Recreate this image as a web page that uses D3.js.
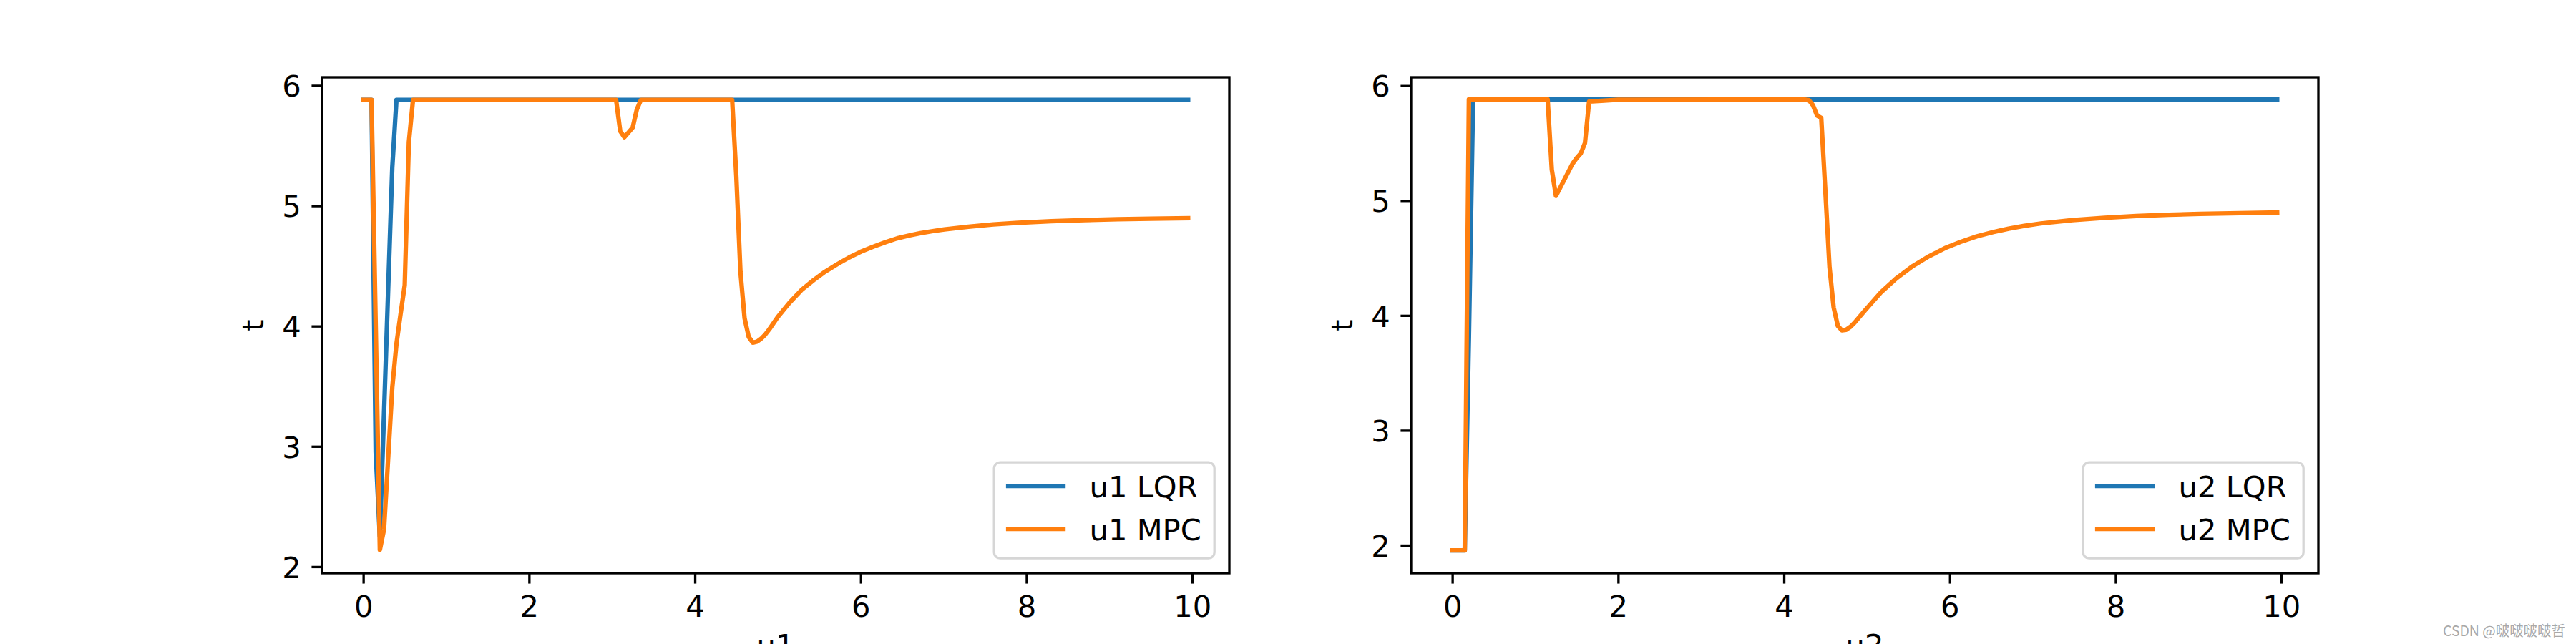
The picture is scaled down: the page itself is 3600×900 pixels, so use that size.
<!DOCTYPE html>
<html><head><meta charset="utf-8">
<script src="https://cdn.jsdelivr.net/npm/d3@7/dist/d3.min.js"></script>
<style>body{margin:0;background:#fff}</style>
</head><body>
<svg id="c" width="3600" height="900" xmlns="http://www.w3.org/2000/svg"></svg>
<script>
// ---------------- data ----------------
const xTicks = [0, 2, 4, 6, 8, 10];
const yTicks = [2, 3, 4, 5, 6];
const xLabels = ["u1", "u2"];
const yLabel = "t";
const legend1 = ["u1 LQR", "u1 MPC"];
const legend2 = ["u2 LQR", "u2 MPC"];

// u1, LQR
const u1LqrT = [0, 0.05, 0.1, 0.15, 0.2, 0.25, 0.3, 0.35, 0.4, 9.95];
const u1LqrV = [5.88, 5.88, 5.88, 2.95, 2.25, 3.27, 4.3, 5.32, 5.88, 5.88];
// u1, MPC
const u1MpcT = [0, 0.05, 0.1, 0.15, 0.2, 0.25, 0.3, 0.35, 0.4, 0.45, 0.5, 0.55, 0.6,
  3.05, 3.1, 3.15, 3.2, 3.25, 3.3, 3.35,
  4.45, 4.5, 4.55, 4.6, 4.65, 4.7, 4.75, 4.8, 4.85, 4.9, 5.0, 5.14, 5.29, 5.43, 5.57, 5.72, 5.86,
  6.0, 6.15, 6.3, 6.44, 6.58, 6.72, 6.87, 7.01, 7.3, 7.6, 7.9, 8.3, 8.7, 9.1, 9.5, 9.95];
const u1MpcV = [5.88, 5.88, 5.88, 4.0, 2.14, 2.31, 2.9, 3.49, 3.85, 4.1, 4.34, 5.53, 5.88,
  5.88, 5.62, 5.57, 5.61, 5.65, 5.80, 5.88,
  5.88, 5.25, 4.45, 4.065, 3.91, 3.862, 3.87, 3.895, 3.93, 3.975, 4.075, 4.193, 4.302, 4.38, 4.451, 4.515, 4.57,
  4.617, 4.659, 4.697, 4.729, 4.752, 4.772, 4.789, 4.803, 4.826, 4.845, 4.859, 4.871, 4.881, 4.888, 4.893, 4.897];
// u2, LQR
const u2LqrT = [0, 0.05, 0.1, 0.15, 0.2, 0.25, 9.95];
const u2LqrV = [1.955, 1.955, 1.955, 1.955, 3.8, 5.88, 5.88];
// u2, MPC
const u2MpcT = [0, 0.05, 0.1, 0.15, 0.2,
  1.15, 1.2, 1.25, 1.3, 1.35, 1.4, 1.45, 1.5, 1.55, 1.6, 1.65, 1.8, 2.0,
  4.25, 4.3, 4.35, 4.4, 4.45, 4.5, 4.55, 4.6, 4.65, 4.7, 4.75, 4.8, 4.85, 4.98, 5.17, 5.36, 5.555, 5.75, 5.94,
  6.13, 6.33, 6.52, 6.71, 6.9, 7.1, 7.48, 7.87, 8.25, 8.64, 9.02, 9.5, 9.95];
const u2MpcV = [1.955, 1.955, 1.955, 1.955, 5.88,
  5.88, 5.27, 5.04, 5.11, 5.18, 5.25, 5.32, 5.37, 5.41, 5.50, 5.862, 5.868, 5.878,
  5.88, 5.875, 5.83, 5.74, 5.72, 5.08, 4.42, 4.07, 3.91, 3.87, 3.875, 3.9, 3.935, 4.046, 4.201, 4.325, 4.43, 4.515, 4.585,
  4.64, 4.689, 4.725, 4.755, 4.78, 4.801, 4.83, 4.85, 4.865, 4.876, 4.884, 4.891, 4.897];

// ---------------- drawing ----------------
const svg = d3.select("#c");
svg.append("rect").attr("width", 3600).attr("height", 900).attr("fill", "#fff");
const FONT = "DejaVu Sans, Liberation Sans, sans-serif";
const FS = 41.67, LW = 3.33, TICK = 14.58;
const BLUE = "#1f77b4", ORANGE = "#ff7f0e";

const panels = [
  {left: 450, right: 1718, yDom: [1.946, 6.068], xl: xLabels[0], leg: legend1,
   series: [[u1LqrT, u1LqrV, BLUE], [u1MpcT, u1MpcV, ORANGE]]},
  {left: 1972, right: 3240, yDom: [1.757, 6.073], xl: xLabels[1], leg: legend2,
   series: [[u2LqrT, u2LqrV, BLUE], [u2MpcT, u2MpcV, ORANGE]]}
];
const TOP = 108, BOT = 801;

panels.forEach(p => {
  const x = d3.scaleLinear().domain([-0.4975, 10.4475]).range([p.left, p.right]);
  const y = d3.scaleLinear().domain(p.yDom).range([BOT, TOP]);
  const g = svg.append("g");

  // lines
  const line = d3.line().x(d => x(d[0])).y(d => y(d[1]));
  p.series.forEach(([T, V, col]) => {
    const pts = T.map((t, i) => [t, V[i]]);
    g.append("path").attr("d", line(pts)).attr("fill", "none")
      .attr("stroke", col).attr("stroke-width", 6.25)
      .attr("stroke-linejoin", "round").attr("stroke-linecap", "square");
  });

  // axes
  const xa = g.append("g").attr("transform", `translate(0,${BOT})`)
    .call(d3.axisBottom(x).tickValues(xTicks).tickFormat(d3.format("d"))
      .tickSize(TICK).tickSizeOuter(0).tickPadding(TICK));
  const ya = g.append("g").attr("transform", `translate(${p.left},0)`)
    .call(d3.axisLeft(y).tickValues(yTicks).tickFormat(d3.format("d"))
      .tickSize(TICK).tickSizeOuter(0).tickPadding(TICK));
  [xa, ya].forEach(a => {
    a.select(".domain").remove();
    a.attr("font-family", FONT).attr("font-size", FS);
    a.selectAll(".tick line").attr("stroke", "#000").attr("stroke-width", LW);
    a.selectAll(".tick text").attr("fill", "#000");
  });
  xa.selectAll(".tick text").attr("dy", "0.76em");
  ya.selectAll(".tick text").attr("dy", "0.365em");

  // spines
  g.append("rect").attr("x", p.left).attr("y", TOP)
    .attr("width", p.right - p.left).attr("height", BOT - TOP)
    .attr("fill", "none").attr("stroke", "#000").attr("stroke-width", LW);

  // axis labels
  g.append("text").attr("x", (p.left + p.right) / 2).attr("y", 916)
    .attr("text-anchor", "middle").attr("font-family", FONT).attr("font-size", FS)
    .text(p.xl);
  g.append("text").attr("transform", `translate(${p.left - 82},${(TOP + BOT) / 2}) rotate(-90)`)
    .attr("text-anchor", "middle").attr("font-family", FONT).attr("font-size", FS)
    .text(yLabel);

  // legend
  const bw = 308, bh = 134;
  const bx = p.right - 20.8 - bw, by = BOT - 20.8 - bh;
  const lg = g.append("g").attr("transform", `translate(${bx},${by})`);
  lg.append("rect").attr("width", bw).attr("height", bh).attr("rx", 8.3).attr("ry", 8.3)
    .attr("fill", "#fff").attr("fill-opacity", 0.8)
    .attr("stroke", "#ccc").attr("stroke-opacity", 0.8).attr("stroke-width", LW);
  p.leg.forEach((name, i) => {
    const yy = 32.8 + i * 60;
    lg.append("line").attr("x1", 16.7).attr("x2", 16.7 + 83.3).attr("y1", yy).attr("y2", yy)
      .attr("stroke", p.series[i][2]).attr("stroke-width", 6.25).attr("stroke-linecap", "butt");
    lg.append("text").attr("x", 16.7 + 83.3 + 33.3).attr("y", yy + 16)
      .attr("font-family", FONT).attr("font-size", FS).attr("fill", "#000").text(name);
  });
});

// watermark
svg.append("text").attr("x", 3585).attr("y", 889).attr("text-anchor", "end")
  .attr("font-family", "Noto Sans CJK SC, DejaVu Sans, sans-serif").attr("font-size", 20)
  .attr("fill", "#a8a8a8").attr("textLength", 171).attr("lengthAdjust", "spacingAndGlyphs")
  .text("CSDN @啵啵啵啵哲");
</script>
</body></html>
